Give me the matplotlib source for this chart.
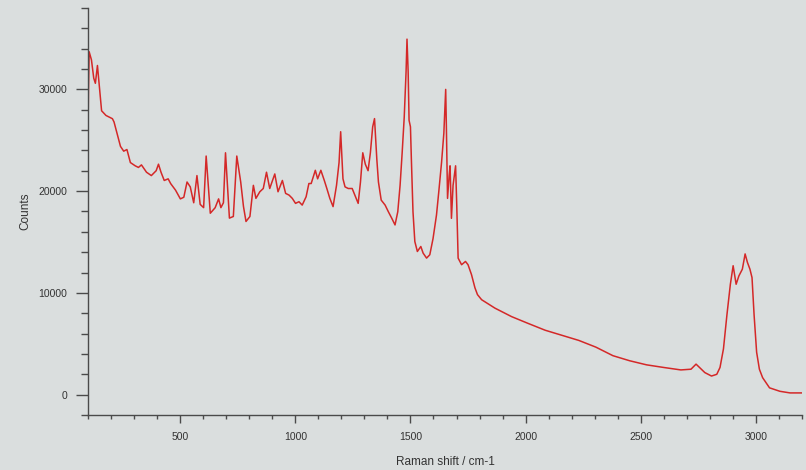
import matplotlib
matplotlib.use("Agg")
import matplotlib.pyplot as plt
from matplotlib.ticker import MultipleLocator

raman_shift = [100, 102, 105, 115, 125, 132, 141, 159, 178, 206, 213, 230, 241, 255, 269, 284,
               305, 319, 332, 354, 375, 396, 406, 417, 431, 448, 459, 480, 501, 516, 530, 544,
               559, 573, 587, 602, 613, 631, 652, 667, 677, 688, 697, 714, 731, 746, 763, 775,
               786, 803, 818, 829, 846, 861, 875, 889, 911, 925, 944, 958, 973, 987, 1001, 1016,
               1030, 1047, 1059, 1069, 1087, 1097, 1111, 1126, 1137, 1150, 1164, 1179, 1190, 1197,
               1207, 1216, 1230, 1247, 1264, 1273, 1283, 1293, 1304, 1316, 1326, 1336, 1344, 1354,
               1361, 1373, 1390, 1404, 1419, 1433, 1445, 1455, 1464, 1473, 1481, 1485, 1490, 1494,
               1500, 1504, 1511, 1519, 1530, 1545, 1555, 1570, 1584, 1598, 1613, 1623, 1635, 1645,
               1649, 1653, 1656, 1661, 1668, 1672, 1678, 1685, 1696, 1701, 1707, 1722, 1739, 1750,
               1765, 1780, 1791, 1809, 1867, 1939, 2011, 2085, 2158, 2231, 2305, 2379, 2452, 2525,
               2600, 2674, 2718, 2740, 2755, 2778, 2807, 2830, 2844, 2859, 2874, 2889, 2901, 2914,
               2926, 2941, 2953, 2963, 2974, 2983, 2992, 3003, 3015, 3029, 3059, 3104, 3148, 3200]

counts = [25800, 30000, 33700, 32900, 31100, 30600, 32350, 27900, 27440, 27120, 26800, 25360,
          24400, 23930, 24090, 22810, 22490, 22330, 22580, 21860, 21530, 22010, 22650, 21860,
          21050, 21210, 20740, 20100, 19240, 19400, 20900, 20420, 18860, 21530, 18700, 18380,
          23450, 17830, 18370, 19240, 18380, 18860, 23770, 17350, 17510, 23450, 20900, 18500,
          17020, 17510, 20570, 19290, 19940, 20260, 21860, 20260, 21690, 19940, 21050, 19780,
          19610, 19290, 18800, 18960, 18630, 19450, 20750, 20750, 22050, 21210, 22050, 21050,
          20260, 19290, 18480, 20570, 22810, 25840, 21210, 20420, 20260, 20260, 19290, 18800,
          20900, 23770, 22650, 22010, 23770, 26320, 27130, 23130, 20900, 19120, 18630, 17980,
          17330, 16680, 17980, 20570, 23770, 27280, 31750, 34940, 31750, 26960, 26320, 23130,
          17980, 15050, 14070, 14560, 13910, 13420, 13750, 15330, 17650, 19940, 22810, 25690,
          27920, 30000, 26320, 19290, 21530, 22490, 17330, 20570, 22490, 18630, 13420, 12770,
          13090, 12770, 11800, 10500, 9830, 9330, 8500, 7670, 7000, 6330, 5830, 5330, 4670,
          3830, 3330, 2930, 2670, 2430, 2500, 3000, 2670, 2170, 1830, 2000, 2670, 4500, 7830,
          10850, 12670, 10850, 11670, 12330, 13830, 13000, 12330, 11500, 7830, 4170, 2500,
          1670, 670, 330, 170, 170]

x_major_ticks = [500, 1000, 1500, 2000, 2500, 3000]
y_major_ticks = [0, 10000, 20000, 30000]

bg = "#dadede"
plt.rcParams["font.family"] = ["Liberation Sans", "DejaVu Sans"]

fig = plt.figure(figsize=(8.06, 4.70), dpi=100, facecolor=bg)
ax = fig.add_axes([88 / 806, 1 - 415 / 470, (802 - 88) / 806, (415 - 8) / 470])
ax.set_facecolor(bg)

ax.plot(raman_shift, counts, color="#d42828", linewidth=1.1)

ax.set_xlim(100, 3200)
ax.set_ylim(-2000, 38000)
ax.set_xticks(x_major_ticks)
ax.set_yticks(y_major_ticks)
ax.xaxis.set_minor_locator(MultipleLocator(100))
ax.yaxis.set_minor_locator(MultipleLocator(2000))

for s in ["top", "right"]:
    ax.spines[s].set_visible(False)
for s in ["left", "bottom"]:
    ax.spines[s].set_color("#4a4a4a")
    ax.spines[s].set_linewidth(1.0)

ax.tick_params(axis="y", which="major", length=9, width=1, colors="#4a4a4a",
               labelsize=7.5, labelcolor="#333333", pad=6)
ax.tick_params(axis="y", which="minor", length=5, width=1, colors="#4a4a4a")
ax.tick_params(axis="x", which="major", length=6, width=1, colors="#4a4a4a",
               labelsize=7.5, labelcolor="#333333", pad=6)
ax.tick_params(axis="x", which="minor", length=3, width=1, colors="#4a4a4a")

ax.set_xlabel("Raman shift / cm-1", fontsize=8.5, color="#333333", labelpad=10)
ax.set_ylabel("Counts", fontsize=8.5, color="#333333", labelpad=5)

fig.savefig("out.png", dpi=100, facecolor=bg)
